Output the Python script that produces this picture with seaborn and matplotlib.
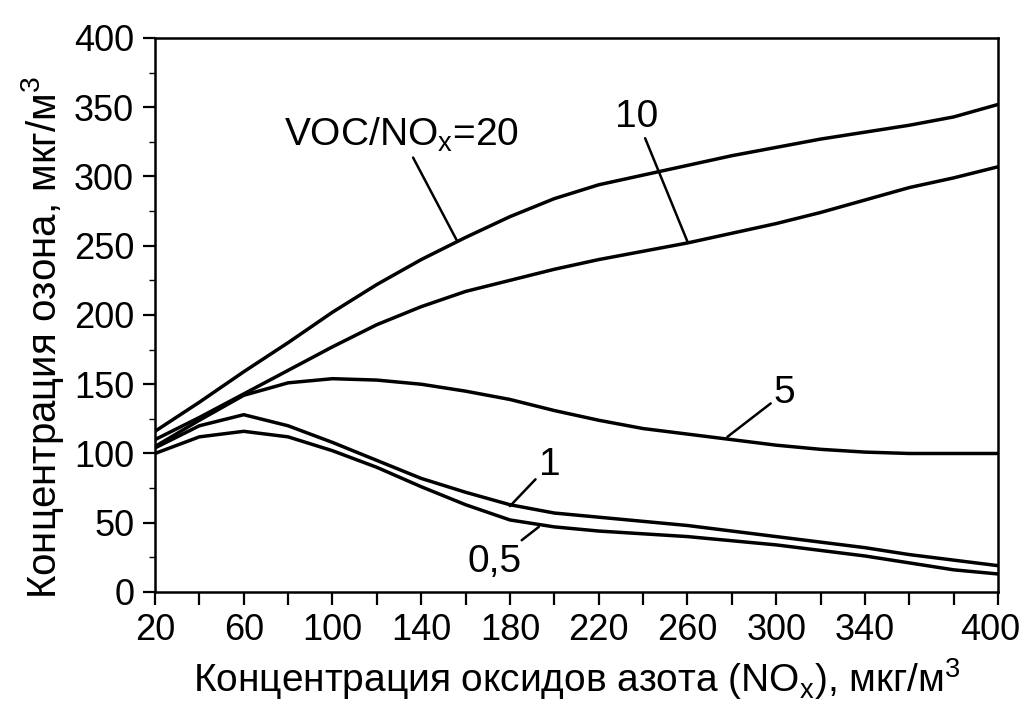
import numpy as np
import pandas as pd
import matplotlib
matplotlib.use("Agg")
import matplotlib.pyplot as plt
import matplotlib.transforms as mtransforms
import seaborn as sns

# ---- data ----
nox = [20, 40, 60, 80, 100, 120, 140, 160, 180, 200, 220, 240, 260, 280, 300, 320, 340, 360, 380, 400]
ozone_20 = [116, 137, 159, 180, 202, 222, 240, 256, 271, 284, 294, 301, 308, 315, 321, 327, 332, 337, 343, 352]
ozone_10 = [110, 126, 143, 160, 177, 193, 206, 217, 225, 233, 240, 246, 252, 259, 266, 274, 283, 292, 299, 307]
ozone_5 = [105, 124, 142, 151, 154, 153, 150, 145, 139, 131, 124, 118, 114, 110, 106, 103, 101, 100, 100, 100]
ozone_1 = [104, 120, 128, 120, 108, 95, 82, 72, 63, 57, 54, 51, 48, 44, 40, 36, 32, 27, 23, 19]
ozone_05 = [100, 112, 116, 112, 102, 90, 76, 63, 52, 47, 44, 42, 40, 37, 34, 30, 26, 21, 16, 13]
ratios = ["20", "10", "5", "1", "0,5"]

x_ticks = list(range(20, 401, 20))
x_labels_shown = [20, 60, 100, 140, 180, 220, 260, 300, 340, 400]
y_ticks = [0, 50, 100, 150, 200, 250, 300, 350, 400]

rows = []
for r, vals in zip(ratios, [ozone_20, ozone_10, ozone_5, ozone_1, ozone_05]):
    for xv, yv in zip(nox, vals):
        rows.append({"NOx": xv, "O3": yv, "ratio": r})
df = pd.DataFrame(rows)

sns.set_theme(style="ticks")
plt.rcParams["font.family"] = ["Liberation Sans", "DejaVu Sans"]
plt.rcParams["mathtext.fontset"] = "custom"
plt.rcParams["mathtext.rm"] = "Liberation Sans"
plt.rcParams["mathtext.it"] = "Liberation Sans"
plt.rcParams["mathtext.default"] = "rm"
for k in ["text.color", "axes.labelcolor", "xtick.color", "ytick.color", "axes.edgecolor"]:
    plt.rcParams[k] = "black"

fig = plt.figure(figsize=(10.25, 7.06), dpi=100)
ax = fig.add_axes([0.1512, 0.1615, 0.8225, 0.7847])

sns.lineplot(data=df, x="NOx", y="O3", hue="ratio", hue_order=ratios,
             palette=["black"] * 5, linewidth=2.5, legend=False, ax=ax,
             estimator=None, sort=False)

ax.set_xlim(20, 400)
ax.set_ylim(0, 400)
ax.set_xticks(x_ticks)
ax.set_xticklabels([str(t) if t in x_labels_shown else "" for t in x_ticks])
ax.set_yticks(y_ticks)
ax.set_yticklabels([str(t) for t in y_ticks])
ax.set_yticks(list(range(25, 400, 50)), minor=True)

ax.tick_params(axis="both", which="major", direction="out", length=9, width=1.6,
               labelsize=26, colors="black", pad=6)
ax.tick_params(axis="y", which="minor", direction="out", length=4, width=1.0)
for s in ax.spines.values():
    s.set_linewidth(1.8)
    s.set_color("black")
    s.set_visible(True)

# nudge the last x tick label left so it stays inside the figure (as in the reference)
last = ax.get_xticklabels()[-1]
last.set_transform(last.get_transform() +
                   mtransforms.ScaledTranslation(-8 / 100, 0, fig.dpi_scale_trans))

ax.set_xlabel("Концентрация оксидов азота (NO$_x$), мкг/м$^3$", fontsize=28, labelpad=6)
ax.set_ylabel("Концентрация озона, мкг/м$^3$", fontsize=29)
ax.yaxis.set_label_coords(-0.106, 0.46)

lp = dict(arrowstyle="-", color="black", lw=1.8, shrinkA=0, shrinkB=0)
fs = 28
ax.annotate("VOC/NO$_x$=20", xy=(156, 254), xytext=(131, 316), fontsize=fs,
            ha="center", va="bottom", arrowprops=lp)
ax.annotate("10", xy=(260, 253), xytext=(237, 330), fontsize=fs,
            ha="center", va="bottom", arrowprops=lp)
ax.annotate("5", xy=(278, 112), xytext=(299, 131), fontsize=fs,
            ha="left", va="bottom", arrowprops=lp)
ax.annotate("1", xy=(180, 62), xytext=(193, 79), fontsize=fs,
            ha="left", va="bottom", arrowprops=lp)
ax.annotate("0,5", xy=(193, 47), xytext=(173, 35), fontsize=fs,
            ha="center", va="top", arrowprops=lp)

fig.savefig("out.png", dpi=100, facecolor="white")
